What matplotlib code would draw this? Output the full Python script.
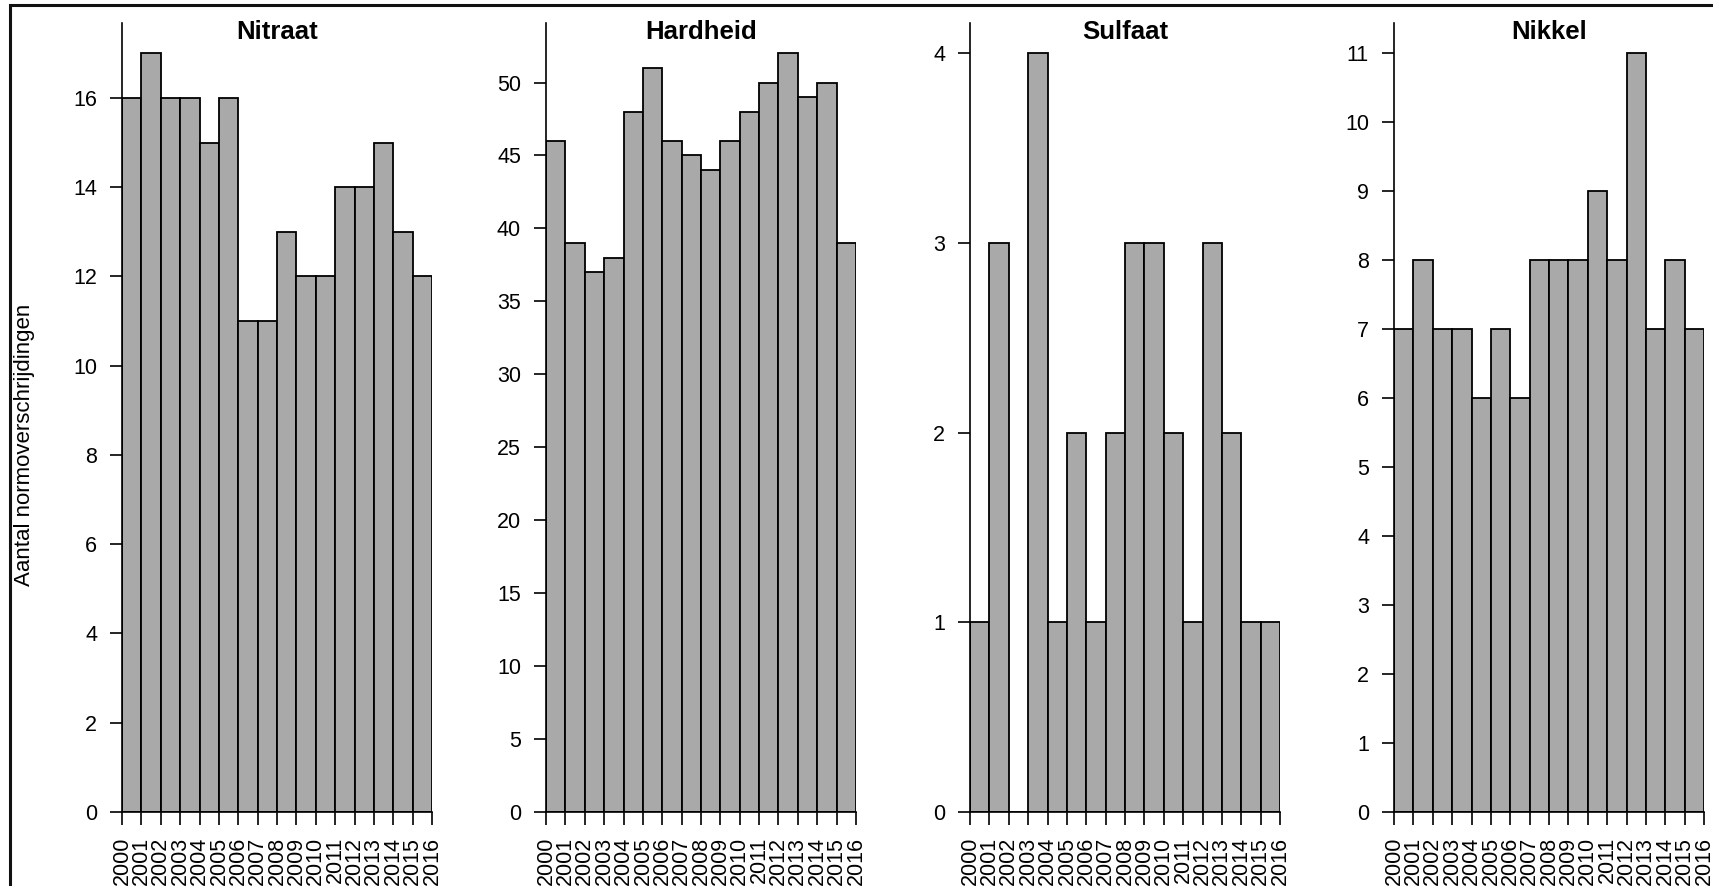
import numpy as np
import matplotlib
matplotlib.use("Agg")
import matplotlib.pyplot as plt
from matplotlib.patches import Rectangle

plt.rcParams["font.family"] = ["Liberation Sans", "DejaVu Sans"]

# Data: yearly counts of norm exceedances per parameter
years = [str(y) for y in range(2000, 2017)]  # bin edge labels
titles = ["Nitraat", "Hardheid", "Sulfaat", "Nikkel"]
nitraat = [16, 17, 16, 16, 15, 16, 11, 11, 13, 12, 12, 14, 14, 15, 13, 12]
hardheid = [46, 39, 37, 38, 48, 51, 46, 45, 44, 46, 48, 50, 52, 49, 50, 39]
sulfaat = [1, 3, 0, 4, 1, 2, 1, 2, 3, 3, 2, 1, 3, 2, 1, 1]
nikkel = [7, 8, 7, 7, 6, 7, 6, 8, 8, 8, 9, 8, 11, 7, 8, 7]
yticks = [np.arange(0, 17, 2), np.arange(0, 51, 5), np.arange(0, 5, 1), np.arange(0, 12, 1)]
series = [nitraat, hardheid, sulfaat, nikkel]

W, H = 1713, 886
fig = plt.figure(figsize=(W / 100, H / 100), dpi=100)

lefts = [122, 546, 970, 1394]
ax_w = 310
ax_bottom = 812
ax_top = 23

for left, title, vals, yt in zip(lefts, titles, series, yticks):
    ax = fig.add_axes([left / W, 1 - ax_bottom / H, ax_w / W, (ax_bottom - ax_top) / H])
    edges = np.arange(len(vals) + 1)
    ax.bar(edges[:-1], vals, width=1, align="edge", color="#a9a9a9",
           edgecolor="black", linewidth=1.3)
    ax.set_xlim(0, len(vals))
    ax.set_ylim(0, max(vals) * 1.04)
    ax.set_xticks(edges)
    ax.set_xticklabels(years, rotation=90, va="top")
    ax.set_yticks(yt)
    for s in ["top", "right"]:
        ax.spines[s].set_visible(False)
    for s in ["left", "bottom"]:
        ax.spines[s].set_linewidth(1.2)
    ax.tick_params(direction="out", length=9, width=1.2, labelsize=15.5,
                   pad=9, colors="black")
    ax.patch.set_visible(False)
    ax.text(0.5, 1 - 9 / (ax_bottom - ax_top), title, transform=ax.transAxes,
            ha="center", va="center", fontsize=18.5, fontweight="bold")

fig.text(25 / W, 1 - 445 / H, "Aantal normoverschrijdingen", rotation=90,
         ha="center", va="center", fontsize=16)

# outer frame (cropped at right and bottom)
fig.add_artist(Rectangle((10 / W, -0.5), 2, 1.5 - 5 / H, fill=False,
                         linewidth=2.2, edgecolor="#111111",
                         transform=fig.transFigure))

fig.savefig("out.png", dpi=100)
